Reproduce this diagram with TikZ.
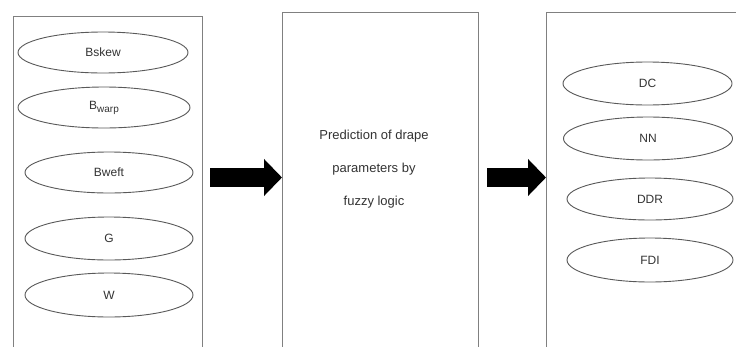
\documentclass[tikz,border=0pt]{standalone}
\usepackage{fontspec}
\setmainfont{Liberation Sans}
\usetikzlibrary{arrows.meta,shapes.geometric}

\tikzset{
  panel/.style={draw=black!50, line width=1pt, anchor=north west, inner sep=0pt},
  param/.style={ellipse, draw=black!65, line width=0.9pt, inner sep=0pt,
    minimum width=169pt, minimum height=42pt, text=black!80,
    font=\fontsize{12}{14}\selectfont},
  fatarrow/.style={line width=19pt, black,
    -{Triangle[length=18pt, width=36pt]}}
}

\begin{document}
\begin{tikzpicture}[x=1pt, y=-1pt]
% Set the canvas (pixel units, y pointing down)
\clip (0,0) rectangle (736,346);
\fill[white] (0,0) rectangle (736,346);

% Draw the three panels
\node[panel, minimum width=189pt, minimum height=360pt] (inbox) at (13,16) {};
\node[panel, minimum width=196pt, minimum height=360pt] (midbox) at (282,12) {};
\node[panel, minimum width=210pt, minimum height=360pt] (outbox) at (546,12) {};

% Input parameters
\node[param, minimum width=170pt, minimum height=41pt] (bskew) at (103,52.5) {Bskew};
\node[param, minimum width=172pt, minimum height=41pt] (bwarp) at (104,107.5)
  {B\raisebox{-3pt}{\fontsize{10}{12}\selectfont warp}};
\node[param, minimum width=168pt, minimum height=41pt] (bweft) at (109,172.5) {Bweft};
\node[param, minimum width=168pt, minimum height=43pt] (gnode) at (109,238.5) {G};
\node[param, minimum width=168pt, minimum height=44pt] (wnode) at (109,295) {W};

% Fuzzy logic block
\node[align=center, text=black!80, font=\fontsize{13}{33}\selectfont] (fuzzy) at (374,169)
  {Prediction of drape\\parameters by\\fuzzy logic};

% Output parameters
\node[param, minimum height=43pt] (dc) at (647.5,83.5) {DC};
\node[param, minimum height=43pt] (nn) at (648,138.5) {NN};
\node[param, minimum width=166pt] (ddr) at (650,199) {DDR};
\node[param, minimum width=166pt, minimum height=44pt] (fdi) at (650,260) {FDI};

% Flow arrows
\coordinate (flow) at (0,177.5);
\draw[fatarrow, shorten <=7pt] (inbox.east |- flow) -- (midbox.west |- flow);
\draw[fatarrow, shorten <=8pt] (midbox.east |- flow) -- (outbox.west |- flow);
\end{tikzpicture}
\end{document}
